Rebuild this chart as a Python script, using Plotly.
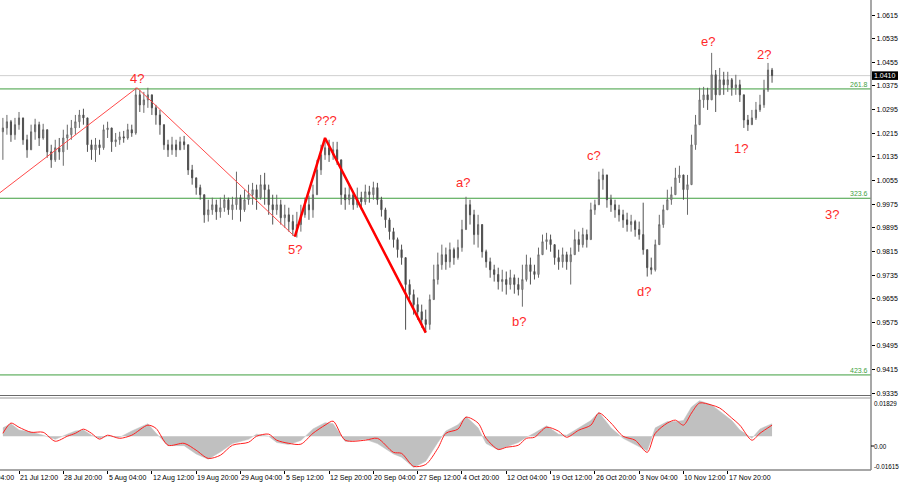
import plotly.graph_objects as go

# ---------------- data ----------------
first_open = 1.0220
closes = [
    1.0233, 1.0254, 1.0210, 1.0244, 1.0267, 1.0193, 1.0159, 1.0220, 1.0244, 1.0199,
    1.0227, 1.0152, 1.0125, 1.0166, 1.0152, 1.0199, 1.0210, 1.0233, 1.0254, 1.0277,
    1.0267, 1.0176, 1.0159, 1.0176, 1.0166, 1.0227, 1.0233, 1.0186, 1.0193, 1.0203,
    1.0199, 1.0227, 1.0216, 1.0345, 1.0311, 1.0328, 1.0345, 1.0301, 1.0277, 1.0244,
    1.0176, 1.0159, 1.0176, 1.0159, 1.0186, 1.0176, 1.0091, 1.0064, 1.0031, 1.0007,
    0.9939, 0.9956, 0.9973, 0.9949, 0.9963, 0.9990, 0.9956, 0.9973, 0.9997, 0.9956,
    0.9990, 1.0007, 1.0024, 0.9997, 1.0041, 1.0024, 0.9973, 0.9956, 0.9973, 0.9929,
    0.9939, 0.9916, 0.9889, 0.9906, 0.9939, 0.9973, 0.9956, 1.0007, 1.0091, 1.0142,
    1.0166, 1.0142, 1.0159, 1.0125, 1.0007, 0.9990, 1.0007, 0.9973, 0.9997, 0.9983,
    1.0017, 1.0007, 1.0031, 0.9990, 0.9956, 0.9922, 0.9882, 0.9855, 0.9821, 0.9794,
    0.9703, 0.9669, 0.9635, 0.9611, 0.9584, 0.9568, 0.9652, 0.9720, 0.9770, 0.9804,
    0.9780, 0.9821, 0.9794, 0.9828, 0.9889, 0.9973, 0.9939, 0.9872, 0.9906, 0.9814,
    0.9780, 0.9753, 0.9737, 0.9713, 0.9720, 0.9703, 0.9726, 0.9703, 0.9686, 0.9720,
    0.9770, 0.9747, 0.9737, 0.9804, 0.9848, 0.9855, 0.9838, 0.9794, 0.9780, 0.9804,
    0.9780, 0.9804, 0.9855, 0.9838, 0.9872, 0.9855, 0.9956, 0.9973, 1.0058, 1.0074,
    0.9990, 0.9973, 0.9956, 0.9939, 0.9922, 0.9906, 0.9916, 0.9889, 0.9872, 0.9821,
    0.9760, 0.9753, 0.9838, 0.9906, 0.9956, 0.9990, 1.0007, 1.0064, 1.0074, 1.0024,
    1.0041, 1.0176, 1.0244, 1.0328, 1.0345, 1.0328, 1.0413, 1.0345, 1.0396, 1.0379,
    1.0396, 1.0369, 1.0379, 1.0345, 1.0260, 1.0244, 1.0267, 1.0294, 1.0311, 1.0362,
    1.0429, 1.0410,
]
highs = [
    1.0267, 1.0277, 1.0260, 1.0267, 1.0287, 1.0260, 1.0210, 1.0244, 1.0264, 1.0254,
    1.0247, 1.0227, 1.0176, 1.0193, 1.0199, 1.0227, 1.0244, 1.0260, 1.0277, 1.0294,
    1.0298, 1.0267, 1.0193, 1.0199, 1.0193, 1.0244, 1.0254, 1.0233, 1.0216, 1.0220,
    1.0223, 1.0247, 1.0244, 1.0369, 1.0362, 1.0355, 1.0369, 1.0335, 1.0311, 1.0294,
    1.0244, 1.0193, 1.0203, 1.0193, 1.0203, 1.0206, 1.0176, 1.0108, 1.0058, 1.0041,
    1.0007, 0.9990, 0.9997, 0.9990, 0.9997, 1.0007, 0.9997, 1.0000, 1.0085, 1.0007,
    1.0024, 1.0041, 1.0047, 1.0041, 1.0074, 1.0081, 1.0041, 1.0007, 1.0007, 0.9990,
    0.9973, 0.9963, 0.9939, 0.9949, 0.9973, 0.9997, 1.0004, 1.0041, 1.0125, 1.0176,
    1.0199, 1.0193, 1.0186, 1.0186, 1.0125, 1.0031, 1.0041, 1.0017, 1.0031, 1.0017,
    1.0041, 1.0037, 1.0051, 1.0047, 1.0000, 0.9963, 0.9929, 0.9895, 0.9862, 0.9838,
    0.9780, 0.9720, 0.9686, 0.9659, 0.9635, 0.9618, 0.9669, 0.9770, 0.9811, 0.9838,
    0.9828, 0.9845, 0.9828, 0.9855, 0.9922, 1.0000, 0.9990, 0.9956, 0.9939, 0.9906,
    0.9821, 0.9794, 0.9770, 0.9760, 0.9753, 0.9747, 0.9753, 0.9737, 0.9726, 0.9770,
    0.9804, 0.9794, 0.9770, 0.9828, 0.9872, 0.9878, 0.9872, 0.9838, 0.9821, 0.9828,
    0.9814, 0.9828, 0.9889, 0.9882, 0.9895, 0.9889, 0.9980, 0.9990, 1.0085, 1.0095,
    1.0064, 1.0007, 0.9990, 0.9973, 0.9956, 0.9946, 0.9939, 0.9922, 0.9916, 0.9980,
    0.9821, 0.9794, 0.9855, 0.9939, 0.9973, 1.0024, 1.0034, 1.0098, 1.0105, 1.0064,
    1.0074, 1.0210, 1.0277, 1.0369, 1.0372, 1.0369, 1.0487, 1.0429, 1.0436, 1.0423,
    1.0423, 1.0402, 1.0413, 1.0396, 1.0328, 1.0277, 1.0294, 1.0321, 1.0345, 1.0396,
    1.0453, 1.0436,
]
lows = [
    1.0125, 1.0210, 1.0186, 1.0193, 1.0227, 1.0176, 1.0132, 1.0159, 1.0193, 1.0172,
    1.0193, 1.0132, 1.0098, 1.0118, 1.0125, 1.0105, 1.0159, 1.0193, 1.0210, 1.0233,
    1.0244, 1.0152, 1.0125, 1.0118, 1.0142, 1.0159, 1.0199, 1.0152, 1.0169, 1.0176,
    1.0183, 1.0193, 1.0203, 1.0210, 1.0287, 1.0284, 1.0301, 1.0277, 1.0244, 1.0210,
    1.0159, 1.0135, 1.0142, 1.0135, 1.0159, 1.0159, 1.0074, 1.0041, 1.0007, 0.9990,
    0.9912, 0.9916, 0.9939, 0.9922, 0.9929, 0.9949, 0.9939, 0.9922, 0.9956, 0.9916,
    0.9949, 0.9973, 0.9973, 0.9956, 0.9990, 0.9973, 0.9939, 0.9906, 0.9939, 0.9906,
    0.9895, 0.9882, 0.9868, 0.9862, 0.9882, 0.9929, 0.9922, 0.9929, 1.0041, 1.0074,
    1.0125, 1.0118, 1.0125, 1.0108, 0.9973, 0.9956, 0.9973, 0.9956, 0.9963, 0.9956,
    0.9973, 0.9980, 0.9990, 0.9973, 0.9933, 0.9895, 0.9855, 0.9828, 0.9794, 0.9770,
    0.9550, 0.9652, 0.9601, 0.9584, 0.9557, 0.9540, 0.9550, 0.9652, 0.9703, 0.9753,
    0.9753, 0.9760, 0.9770, 0.9787, 0.9814, 0.9889, 0.9906, 0.9838, 0.9828, 0.9794,
    0.9760, 0.9726, 0.9713, 0.9686, 0.9679, 0.9669, 0.9686, 0.9672, 0.9666, 0.9628,
    0.9713, 0.9703, 0.9720, 0.9726, 0.9804, 0.9821, 0.9814, 0.9770, 0.9753, 0.9760,
    0.9753, 0.9703, 0.9814, 0.9814, 0.9828, 0.9828, 0.9855, 0.9939, 0.9990, 1.0024,
    0.9963, 0.9949, 0.9929, 0.9916, 0.9895, 0.9882, 0.9882, 0.9865, 0.9855, 0.9804,
    0.9730, 0.9737, 0.9747, 0.9838, 0.9895, 0.9956, 0.9973, 1.0024, 1.0047, 0.9990,
    0.9939, 1.0041, 1.0159, 1.0260, 1.0301, 1.0294, 1.0345, 1.0287, 1.0345, 1.0345,
    1.0355, 1.0342, 1.0345, 1.0321, 1.0233, 1.0223, 1.0244, 1.0260, 1.0287, 1.0301,
    1.0355, 1.0386,
]

# oscillator (MACD-like): positions in bar index, histogram and signal values
osc_idx = [0, 2, 4, 7, 10, 13, 16, 18, 20, 22, 24, 26, 29, 32, 36, 38, 41, 45, 48, 51,
           54, 57, 61, 63, 66, 68, 71, 74, 77, 80, 82, 85, 90, 93, 97, 99, 102, 105, 108, 110,
           113, 115, 118, 120, 123, 125, 128, 130, 132, 135, 138, 140, 143, 146, 148, 151, 154, 157, 160, 162,
           165, 167, 169, 171, 173, 176, 178, 181, 183, 186, 188, 191]
signal = [0.0014, 0.0063, 0.0043, 0.0019, 0.0019, -0.0024, 0.0000, 0.0014, 0.0034, 0.0014,
          -0.0014, 0.0005, -0.0010, 0.0005, 0.0053, 0.0038, -0.0043, -0.0034, -0.0067, -0.0106,
          -0.0091, -0.0043, -0.0029, 0.0000, 0.0010, -0.0019, -0.0034, -0.0038, 0.0014, 0.0053,
          0.0072, -0.0019, -0.0019, -0.0010, -0.0077, -0.0082, -0.0144, -0.0135, -0.0058, 0.0014,
          0.0034, 0.0091, 0.0063, -0.0010, -0.0063, -0.0053, -0.0043, -0.0010, -0.0005, 0.0043,
          0.0024, -0.0005, 0.0029, 0.0053, 0.0111, 0.0063, 0.0000, -0.0019, -0.0077, 0.0014,
          0.0063, 0.0077, 0.0053, 0.0111, 0.0159, 0.0149, 0.0135, 0.0087, 0.0053, -0.0019,
          0.0014, 0.0053]
hist = [0.0040, 0.0060, 0.0030, 0.0020, 0.0005, -0.0015, 0.0010, 0.0025, 0.0030, 0.0005,
        -0.0010, 0.0000, -0.0005, 0.0025, 0.0060, 0.0015, -0.0045, -0.0045, -0.0085, -0.0110,
        -0.0075, -0.0035, -0.0015, 0.0010, 0.0000, -0.0030, -0.0040, -0.0020, 0.0035, 0.0065,
        0.0060, -0.0025, -0.0015, -0.0035, -0.0085, -0.0100, -0.0150, -0.0120, -0.0030, 0.0025,
        0.0055, 0.0095, 0.0040, -0.0035, -0.0065, -0.0050, -0.0030, -0.0005, 0.0015, 0.0050,
        0.0010, 0.0005, 0.0040, 0.0075, 0.0115, 0.0040, -0.0010, -0.0040, -0.0070, 0.0040,
        0.0070, 0.0070, 0.0075, 0.0140, 0.0170, 0.0150, 0.0120, 0.0075, 0.0030, -0.0010,
        0.0035, 0.0060]

# wave markings
wave_thin_x = [-1, 33.3, 72.5]
wave_thin_y = [1.0011, 1.0369, 0.9865]
wave_thick_x = [72.5, 80, 105]
wave_thick_y = [0.9865, 1.0199, 0.9540]
wave_labels = ["4?", "???", "5?", "a?", "b?", "c?", "d?", "e?", "1?", "2?", "3?"]
wave_label_x = [33.3, 80.3, 72.5, 114.3, 128.2, 146.8, 159.2, 175.1, 183.3, 189.0, 206.0]
wave_label_y = [1.0399, 1.0257, 0.9821, 1.0047, 0.9578, 1.0139, 0.9679, 1.0524, 1.0162, 1.0483, 0.9939]

fib_levels = [1.0365, 0.9995, 0.9397]
fib_names = ["261.8", "323.6", "423.6"]
last_price = 1.0410

price_ticks = [1.0615, 1.0535, 1.0455, 1.0375, 1.0295, 1.0215, 1.0135, 1.0055,
               0.9975, 0.9895, 0.9815, 0.9735, 0.9655, 0.9575, 0.9495, 0.9415, 0.9335]
time_tick_idx = [-7 + 11 * k for k in range(18)]
time_tick_labels = ["14 Jul 04:00", "21 Jul 12:00", "28 Jul 20:00", "5 Aug 04:00", "12 Aug 12:00",
                    "19 Aug 20:00", "29 Aug 04:00", "5 Sep 12:00", "12 Sep 20:00", "20 Sep 04:00",
                    "27 Sep 12:00", "4 Oct 20:00", "12 Oct 04:00", "19 Oct 12:00", "26 Oct 20:00",
                    "3 Nov 04:00", "10 Nov 12:00", "17 Nov 20:00"]
osc_max, osc_min = 0.01829, -0.01615

# ---------------- build ----------------
idx = list(range(len(closes)))
opens = [first_open] + closes[:-1]
hi = [max(h, o, c) for h, o, c in zip(highs, opens, closes)]
lo = [min(l, o, c) for l, o, c in zip(lows, opens, closes)]

W, H = 900, 485
L, R, T, B = 0, 29, 0, 15
PW, PH = W - L - R, H - T - B


def py(px):  # pixel y (from top) -> paper y
    return (PH - px) / PH


def pxx(px):  # pixel x -> paper x
    return px / PW


FONT = "Liberation Sans, Arial, sans-serif"
xr = [-0.718, 215.57]
px_per_bar = PW / (xr[1] - xr[0])

fig = go.Figure()
fig.add_trace(go.Candlestick(
    x=idx, open=opens, high=hi, low=lo, close=closes,
    xaxis="x", yaxis="y", whiskerwidth=0, hoverinfo="skip", showlegend=False,
    increasing=dict(line=dict(color="#6a6a6a", width=1), fillcolor="#b4b4b4"),
    decreasing=dict(line=dict(color="#505050", width=1), fillcolor="#3a3a3a"),
))
fig.add_trace(go.Scatter(x=wave_thin_x, y=wave_thin_y, mode="lines", xaxis="x", yaxis="y",
                         line=dict(color="#ff4a4a", width=1), hoverinfo="skip", showlegend=False))
fig.add_trace(go.Scatter(x=wave_thick_x, y=wave_thick_y, mode="lines", xaxis="x", yaxis="y",
                         line=dict(color="#ff0000", width=2.5), hoverinfo="skip", showlegend=False))
fig.add_trace(go.Scatter(x=osc_idx, y=hist, mode="lines", fill="tozeroy", xaxis="x2", yaxis="y2",
                         fillcolor="#c0c0c0", line=dict(color="#c0c0c0", width=0.5),
                         hoverinfo="skip", showlegend=False))
fig.add_trace(go.Scatter(x=osc_idx, y=signal, mode="lines", xaxis="x2", yaxis="y2",
                         line=dict(color="#ff2020", width=1, shape="spline", smoothing=0.8),
                         hoverinfo="skip", showlegend=False))

shapes = []
annotations = []
# last-price line
shapes.append(dict(type="line", xref="paper", yref="y", x0=0, x1=1, y0=last_price, y1=last_price,
                   line=dict(color="#cfcfcf", width=1), layer="below"))
for lvl, name in zip(fib_levels, fib_names):
    shapes.append(dict(type="line", xref="paper", yref="y", x0=0, x1=1, y0=lvl, y1=lvl,
                       line=dict(color="#3f9f3f", width=1), layer="below"))
    annotations.append(dict(xref="paper", yref="y", x=1, y=lvl, text=name, showarrow=False,
                            xanchor="right", yanchor="bottom", xshift=-1, yshift=-1,
                            font=dict(family=FONT, size=7, color="#3f9f3f")))
# frame lines
shapes.append(dict(type="line", xref="paper", yref="paper", x0=1, x1=1, y0=0, y1=1,
                   line=dict(color="#8a8a8a", width=1.5)))
shapes.append(dict(type="line", xref="paper", yref="paper", x0=0, x1=1, y0=0, y1=0,
                   line=dict(color="#8a8a8a", width=1.5)))
shapes.append(dict(type="line", xref="paper", yref="paper", x0=0, x1=1, y0=py(395.5), y1=py(395.5),
                   line=dict(color="#6a6a6a", width=1)))
shapes.append(dict(type="line", xref="paper", yref="paper", x0=0, x1=1, y0=py(398), y1=py(398),
                   line=dict(color="#9a9a9a", width=1)))
# price tag
shapes.append(dict(type="rect", xref="paper", yref="y", x0=pxx(872), x1=pxx(898),
                   y0=last_price - 0.00145, y1=last_price + 0.00145,
                   fillcolor="#000000", line=dict(width=0)))
annotations.append(dict(xref="paper", yref="y", x=pxx(885), y=last_price, text=f"{last_price:.4f}",
                        showarrow=False, xanchor="center", yanchor="middle",
                        font=dict(family=FONT, size=7, color="#ffffff")))
# wave labels
for t, x, y in zip(wave_labels, wave_label_x, wave_label_y):
    annotations.append(dict(xref="x", yref="y", x=x, y=y, text=t, showarrow=False,
                            xanchor="center", yanchor="middle",
                            font=dict(family=FONT, size=13, color="#ff2a2a")))
# oscillator scale labels
for txt, ypx in [(f"{osc_max:.5f}", 403), ("0.00", 446), (f"{osc_min:.5f}", 466)]:
    annotations.append(dict(xref="paper", yref="paper", x=pxx(872.5), y=py(ypx), text=txt,
                            showarrow=False, xanchor="left", yanchor="middle",
                            font=dict(family=FONT, size=6.3, color="#000000")))
shapes.append(dict(type="line", xref="paper", yref="paper", x0=1, x1=pxx(874), y0=py(446), y1=py(446),
                   line=dict(color="#000000", width=1)))
# time labels (placed in paper units so the partly hidden first label still draws)
for xi, txt in zip(time_tick_idx, time_tick_labels):
    xpix = (xi - xr[0]) * px_per_bar
    annotations.append(dict(xref="paper", yref="paper", x=pxx(xpix - 1), y=py(477.5), text=txt,
                            showarrow=False, xanchor="left", yanchor="middle",
                            font=dict(family=FONT, size=7, color="#000000")))

fig.update_layout(
    width=W, height=H, margin=dict(l=L, r=R, t=T, b=B),
    paper_bgcolor="#ffffff", plot_bgcolor="#ffffff", showlegend=False,
    boxgap=0.6, hovermode=False,
    xaxis=dict(domain=[0, 1], range=xr, anchor="y", showticklabels=False, showgrid=False,
               zeroline=False, showline=False, ticks="", rangeslider=dict(visible=False), fixedrange=True),
    xaxis2=dict(domain=[0, 1], range=xr, anchor="y2", showticklabels=False, showgrid=False,
                zeroline=False, showline=False, tickmode="array", tickvals=time_tick_idx,
                ticks="outside", ticklen=3, tickcolor="#000000", rangeslider=dict(visible=False)),
    yaxis=dict(domain=[py(396), 1], range=[0.93257, 1.0666], side="right", anchor="x",
               tickmode="array", tickvals=price_ticks, ticktext=[f"{v:.4f}" for v in price_ticks],
               ticks="outside", ticklen=3, tickcolor="#000000", showgrid=False, zeroline=False,
               showline=False, tickfont=dict(family=FONT, size=7, color="#000000")),
    yaxis2=dict(domain=[0, py(398)], range=[osc_min, osc_max], side="right", anchor="x2",
                showticklabels=False, showgrid=False, zeroline=False, showline=False, ticks=""),
    shapes=shapes, annotations=annotations,
)

fig.write_html("out.html", config={"displayModeBar": False},
               post_script="document.body.style.margin='0px';document.body.style.overflow='hidden';")
